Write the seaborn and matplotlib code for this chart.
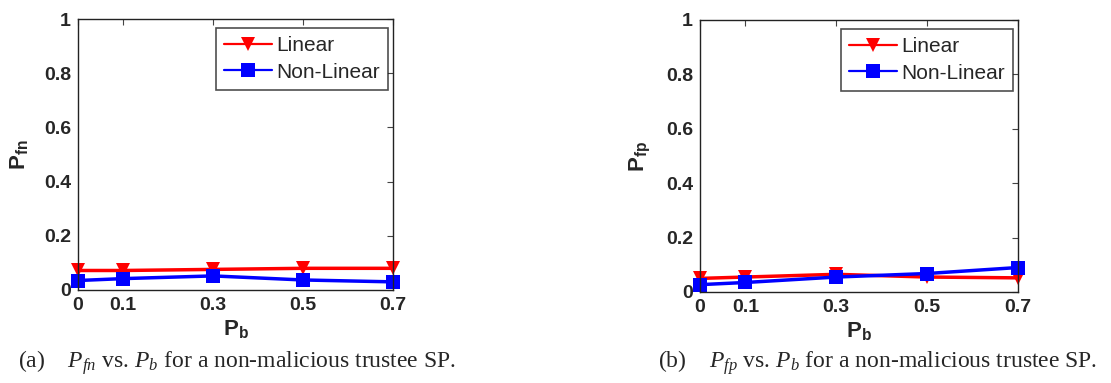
import numpy as np
import pandas as pd
import matplotlib
matplotlib.use('Agg')
import matplotlib.pyplot as plt
import seaborn as sns

# values
pb = [0, 0.1, 0.3, 0.5, 0.7]
fn_linear = [0.072, 0.072, 0.076, 0.080, 0.080]
fn_nonlinear = [0.035, 0.042, 0.052, 0.037, 0.030]
fp_linear = [0.050, 0.055, 0.065, 0.055, 0.052]
fp_nonlinear = [0.027, 0.035, 0.055, 0.068, 0.090]
methods = ['Linear', 'Non-Linear']
ytick_vals = [0, 0.2, 0.4, 0.6, 0.8, 1]
ytick_labels = ['0', '0.2', '0.4', '0.6', '0.8', '1']
xtick_labels = ['0', '0.1', '0.3', '0.5', '0.7']

sns.set_style('white')
plt.rcParams['font.family'] = ['Liberation Sans', 'DejaVu Sans']
plt.rcParams['mathtext.fontset'] = 'custom'
plt.rcParams['mathtext.rm'] = 'Liberation Sans:bold'
plt.rcParams['mathtext.it'] = 'Liberation Serif:italic'
plt.rcParams['mathtext.bf'] = 'Liberation Sans:bold'


def make_df(lin, nonlin):
    return pd.DataFrame({
        'Pb': pb * 2,
        'value': lin + nonlin,
        'method': [methods[0]] * len(pb) + [methods[1]] * len(pb),
    })


def draw_panel(ax, df, ylab, caption, cap_x):
    sns.lineplot(data=df, x='Pb', y='value', hue='method', style='method',
                 markers=['v', 's'], dashes=False, palette=['#ff0000', '#0000ff'],
                 markersize=10, linewidth=2.5, markeredgewidth=0, ax=ax)
    for ln in ax.lines:
        ln.set_clip_on(False)
    ax.set_xlim(0, 0.7)
    ax.set_ylim(0, 1)
    ax.set_xticks(pb)
    ax.set_xticklabels(xtick_labels)
    ax.set_yticks(ytick_vals)
    ax.set_yticklabels(ytick_labels)
    ax.tick_params(direction='in', length=4, top=True, right=True,
                   labelsize=14, pad=5, color='#444444')
    for lab in ax.get_xticklabels() + ax.get_yticklabels():
        lab.set_fontweight('bold')
    for sp in ax.spines.values():
        sp.set_color('#222222')
        sp.set_linewidth(1.0)
    ax.set_xlabel(r'$\mathrm{P}_{\mathrm{b}}$', fontsize=16, labelpad=3)
    ax.set_ylabel(ylab, fontsize=16, labelpad=10)
    leg = ax.legend(loc='upper right', bbox_to_anchor=(0.985, 0.967),
                    fontsize=15, frameon=True, fancybox=False,
                    handlelength=2.3, borderpad=0.4, labelspacing=0.35,
                    handletextpad=0.2, borderaxespad=0)
    leg.get_frame().set_edgecolor('#222222')
    leg.get_frame().set_linewidth(1.2)
    for h in leg.get_lines():
        h.set_linewidth(1.6)
    ax.figure.text(cap_x, 1 - 368 / 383, caption, fontsize=17, family='Liberation Serif',
                   ha='left', va='baseline')


fig = plt.figure(figsize=(11.11, 3.83), dpi=100)
ax1 = fig.add_axes([78 / 1111, 1 - 290 / 383, 315 / 1111, 271 / 383])
ax2 = fig.add_axes([700 / 1111, 1 - 292 / 383, 318 / 1111, 272 / 383])

draw_panel(ax1, make_df(fn_linear, fn_nonlinear), r'$\mathrm{P}_{\mathrm{fn}}$',
           r'(a)    $P_{fn}$ vs. $P_b$ for a non-malicious trustee SP.', 18 / 1111)
draw_panel(ax2, make_df(fp_linear, fp_nonlinear), r'$\mathrm{P}_{\mathrm{fp}}$',
           r'(b)    $P_{fp}$ vs. $P_b$ for a non-malicious trustee SP.', 658 / 1111)

fig.savefig('out.png', dpi=100)
